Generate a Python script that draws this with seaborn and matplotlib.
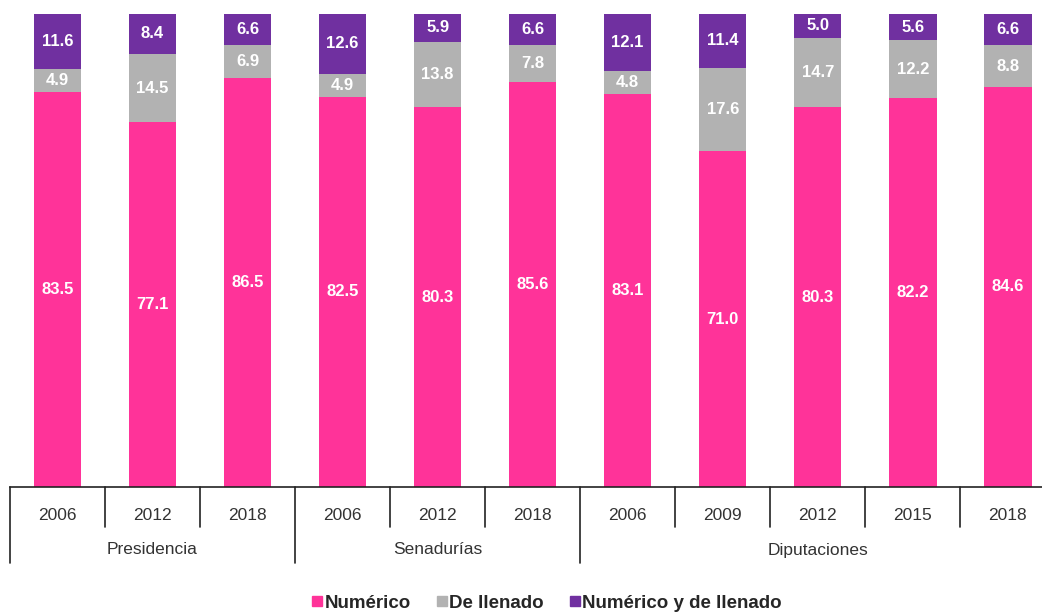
import matplotlib
matplotlib.use("Agg")
import matplotlib.pyplot as plt
import matplotlib.transforms as mtransforms
from matplotlib.lines import Line2D
import numpy as np
import pandas as pd
import seaborn as sns

# Data
groups = ["Presidencia", "Senadurías", "Diputaciones"]
years = ["2006", "2012", "2018", "2006", "2012", "2018", "2006", "2009", "2012", "2015", "2018"]
group_of_bar = [0, 0, 0, 1, 1, 1, 2, 2, 2, 2, 2]
numerico = [83.5, 77.1, 86.5, 82.5, 80.3, 85.6, 83.1, 71.0, 80.3, 82.2, 84.6]
llenado = [4.9, 14.5, 6.9, 4.9, 13.8, 7.8, 4.8, 17.6, 14.7, 12.2, 8.8]
ambos = [11.6, 8.4, 6.6, 12.6, 5.9, 6.6, 12.1, 11.4, 5.0, 5.6, 6.6]
series_names = ["Numérico", "De llenado", "Numérico y de llenado"]
colors = ["#FF3399", "#B2B2B2", "#7030A0"]

sns.set_style("white")
plt.rcParams["font.family"] = ["Liberation Sans", "DejaVu Sans"]

keys = [f"{groups[g]} {y}" for g, y in zip(group_of_bar, years)]
num = np.array(numerico)
lle = np.array(llenado)
amb = np.array(ambos)
df = pd.DataFrame({
    "key": keys,
    "num": num,
    "num_lle": num + lle,
    "total": num + lle + amb,
})

fig = plt.figure(figsize=(10.42, 6.14), dpi=100)
ax = fig.add_axes([10 / 1042, 1 - 487 / 614, 1 - 10 / 1042, (487 - 14) / 614])

# Stacked bars drawn as overlapping cumulative layers
for col, c in zip(["total", "num_lle", "num"], colors[::-1]):
    sns.barplot(data=df, x="key", y=col, order=keys, color=c, width=0.5,
                saturation=1, ax=ax, errorbar=None, linewidth=0)

ax.set_ylim(0, 100)
ax.set_xlim(-0.5, 10.36)
ax.set_xlabel("")
ax.set_ylabel("")
ax.set_xticks([])
ax.set_yticks([])
for s in ["top", "right", "left"]:
    ax.spines[s].set_visible(False)
ax.spines["bottom"].set_color("#222222")
ax.spines["bottom"].set_linewidth(1.2)

# Segment value labels
bottoms = np.zeros(len(keys))
for vals in [num, lle, amb]:
    for i, v in enumerate(vals):
        ax.text(i, bottoms[i] + v / 2, f"{v:.1f}", ha="center", va="center",
                color="white", fontsize=12, fontweight="bold")
    bottoms = bottoms + vals

# Category axis: years and group separators
trans = mtransforms.blended_transform_factory(ax.transData, ax.transAxes)
axis_h = 487 - 14
for i, y in enumerate(years):
    ax.text(i, -28 / axis_h, y, transform=trans, ha="center", va="center",
            fontsize=12.5, color="#333333")
group_bounds = [-0.5]
for i in range(1, len(keys)):
    if group_of_bar[i] != group_of_bar[i - 1]:
        group_bounds.append(i - 0.5)
for i in range(len(keys)):
    xb = i - 0.5
    depth = 76 if xb in group_bounds else 40
    ax.add_line(Line2D([xb, xb], [0, -depth / axis_h], transform=trans,
                       color="#222222", lw=1.2, clip_on=False))
for g, name in enumerate(groups):
    idx = [i for i, gg in enumerate(group_of_bar) if gg == g]
    ax.text(np.mean(idx), -63 / axis_h, name, transform=trans, ha="center",
            va="center", fontsize=12.5, color="#333333")

# Legend
handles = [Line2D([], [], marker="s", linestyle="none", markersize=7,
                  markerfacecolor=c, markeredgecolor=c) for c in colors]
fig.legend(handles, series_names, loc="center", bbox_to_anchor=(546 / 1042, 1 - 603 / 614),
           ncol=3, frameon=False, handletextpad=0.05, columnspacing=1.3,
           prop={"weight": "bold", "size": 13.5}, handlelength=0.7)

fig.savefig("out.png", dpi=100)
